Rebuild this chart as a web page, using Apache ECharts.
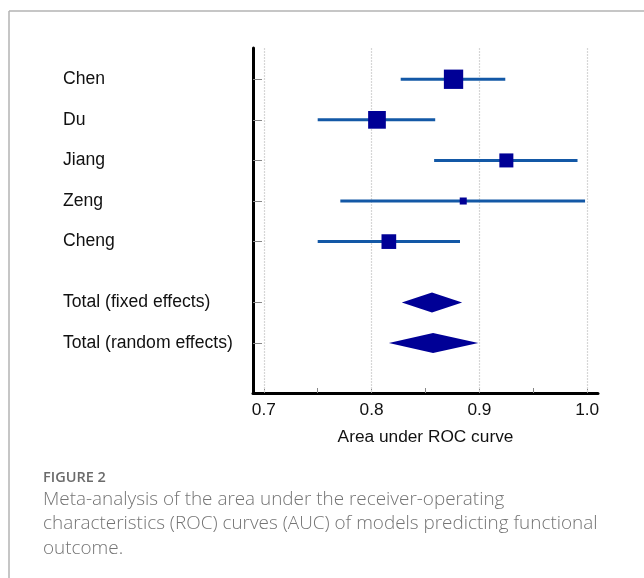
<!DOCTYPE html>
<html>
<head>
<meta charset="utf-8">
<script src="https://cdn.jsdelivr.net/npm/echarts@6/dist/echarts.min.js"></script>
<style>
html,body{margin:0;padding:0;background:#fff;}
#chart{width:644px;height:578px;}
</style>
</head>
<body>
<div id="chart"></div>
<script>
// ---- data ----
const studies = ['Chen', 'Du', 'Jiang', 'Zeng', 'Cheng'];
const studyAUC = [0.876, 0.805, 0.925, 0.885, 0.816];
const studyLow = [0.827, 0.750, 0.858, 0.771, 0.750];
const studyHigh = [0.924, 0.859, 0.991, 0.998, 0.882];
const studyWeight = [32.5, 27.3, 17.1, 4.3, 18.8]; // relative weight (%)
const pooled = ['Total (fixed effects)', 'Total (random effects)'];
const pooledAUC = [0.856, 0.857];
const pooledLow = [0.828, 0.816];
const pooledHigh = [0.884, 0.899];
const xTickLabels = [0.7, 0.8, 0.9, 1.0];
const xMinorTicks = [0.7, 0.75, 0.8, 0.85, 0.9, 0.95, 1.0];
const xAxisTitle = 'Area under ROC curve';
const captionHead = 'FIGURE 2';
const captionLines = [
  'Meta-analysis of the area under the receiver-operating',
  'characteristics (ROC) curves (AUC) of models predicting functional',
  'outcome.'
];

// row positions (pooled rows set apart by a half-row gap)
const studyRows = studies.map((_, i) => i);
const pooledRows = pooled.map((_, i) => studies.length + 0.5 + i);
const allRows = studyRows.concat(pooledRows);
const allNames = studies.concat(pooled);

const chart = echarts.init(document.getElementById('chart'));
const FONT = '"Liberation Sans", Arial, sans-serif';
const CAPFONT = '"Open Sans", "Noto Sans", sans-serif';
const NAVY = '#000096';
const CI_BLUE = '#1358a6';

const ciData = studies.map((s, i) => [studyLow[i], studyHigh[i], studyRows[i]]);
const sqData = studies.map((s, i) => ({
  value: [studyAUC[i], studyRows[i]],
  symbolSize: Math.sqrt(studyWeight[i]) * 3.39
}));
const dmData = pooled.map((s, i) => [pooledLow[i], pooledAUC[i], pooledHigh[i], pooledRows[i]]);

const option = {
  animation: false,
  backgroundColor: '#fff',
  grid: { left: 253, top: 48, width: 345, height: 345, containLabel: false },
  xAxis: {
    type: 'value', min: 0.69, max: 1.01,
    name: xAxisTitle, nameLocation: 'middle', nameGap: 36,
    nameTextStyle: { fontFamily: FONT, fontSize: 17.3, color: '#111' },
    axisLine: { show: true, onZero: false, lineStyle: { color: '#000', width: 3 } },
    axisTick: { show: true, inside: true, length: 5, customValues: xMinorTicks, lineStyle: { color: '#888', width: 1 } },
    axisLabel: { customValues: xTickLabels, margin: 9, fontFamily: FONT, fontSize: 17.3, color: '#111',
      formatter: v => Number(v).toFixed(1) },
    splitLine: { show: false }
  },
  yAxis: {
    type: 'value', inverse: true, min: -0.77, max: 7.73,
    axisLine: { show: true, onZero: false, lineStyle: { color: '#000', width: 3 } },
    axisTick: { show: true, inside: true, length: 9, customValues: allRows, lineStyle: { color: '#888', width: 1 } },
    axisLabel: { customValues: allRows, align: 'left', margin: 190, fontFamily: FONT, fontSize: 17.6, color: '#111',
      formatter: v => { const k = allRows.findIndex(r => Math.abs(r - v) < 1e-6); return k >= 0 ? allNames[k] : ''; } },
    splitLine: { show: false }
  },
  series: [
    {
      type: 'line', data: [], z: 1, silent: true,
      markLine: {
        z: 1, silent: true, symbol: 'none', animation: false,
        label: { show: false },
        lineStyle: { color: '#d6d6d6', type: [2, 1], width: 1.2 },
        data: xTickLabels.map(v => ({ xAxis: v }))
      }
    },
    {
      type: 'custom', z: 6, data: ciData,
      renderItem: (params, api) => {
        const a = api.coord([api.value(0), api.value(2)]);
        const b = api.coord([api.value(1), api.value(2)]);
        return { type: 'line', shape: { x1: a[0], y1: a[1], x2: b[0], y2: b[1] },
          style: { stroke: CI_BLUE, lineWidth: 3 } };
      }
    },
    {
      type: 'scatter', z: 8, symbol: 'rect', data: sqData,
      itemStyle: { color: NAVY, opacity: 1 }
    },
    {
      type: 'custom', z: 8, data: dmData,
      renderItem: (params, api) => {
        const y = api.value(3);
        const l = api.coord([api.value(0), y]);
        const m = api.coord([api.value(1), y]);
        const r = api.coord([api.value(2), y]);
        const h = 10;
        return { type: 'polygon', shape: { points: [[l[0], l[1]], [m[0], m[1] - h], [r[0], r[1]], [m[0], m[1] + h]] },
          style: { fill: NAVY } };
      }
    }
  ],
  graphic: [
    { type: 'line', shape: { x1: 9, y1: 11, x2: 644, y2: 11 }, style: { stroke: '#b3b3b3', lineWidth: 1.5 } },
    { type: 'line', shape: { x1: 9, y1: 11, x2: 9, y2: 578 }, style: { stroke: '#b3b3b3', lineWidth: 1.5 } },
    { type: 'text', left: 43, top: 470, style: { text: captionHead, fontFamily: CAPFONT,
        fontSize: 14.5, fontWeight: 600, fill: '#6b6b6b' } },
    { type: 'text', left: 43, top: 487, style: { text: captionLines.join('\n'), fontFamily: CAPFONT,
        fontSize: 18.9, lineHeight: 24.5, fontWeight: 300, fill: '#747474' } }
  ]
};
chart.setOption(option);
</script>
</body>
</html>
